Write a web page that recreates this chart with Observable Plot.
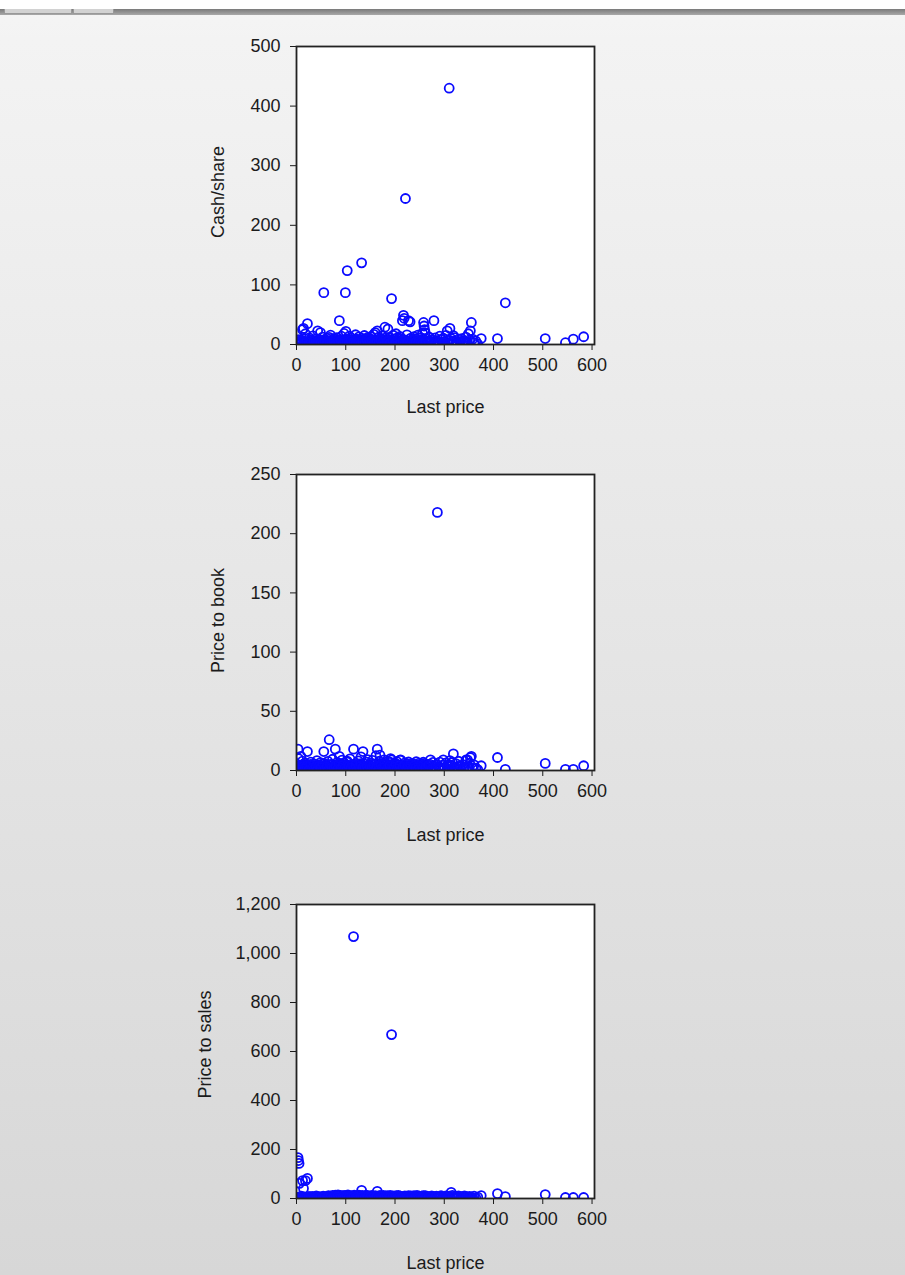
<!DOCTYPE html>
<html><head><meta charset="utf-8">
<script src="https://cdn.jsdelivr.net/npm/d3@7"></script>
<script src="https://cdn.jsdelivr.net/npm/@observablehq/plot@0.6"></script>
<style>
html,body{margin:0;padding:0;}
body{width:905px;height:1275px;position:relative;overflow:hidden;background:linear-gradient(#f5f5f5 0px,#f3f3f3 40px,#d7d7d7 1275px);font-family:"Liberation Sans",Arial,sans-serif;}
#topwhite{position:absolute;left:0;top:0;width:905px;height:9px;background:#fff;}
#bar{position:absolute;left:0;top:9px;width:905px;height:6px;background:linear-gradient(#7a7a7a,#a8a8a8);}
.tab{position:absolute;top:9px;height:4px;background:#d2d2d2;border:1px solid #999;border-top:none;}
.chart{position:absolute;left:0;}
</style></head><body>
<div id="topwhite"></div><div id="bar"></div>
<div class="tab" style="left:4px;width:66px"></div><div class="tab" style="left:73px;width:39px"></div>
<script>
const lastPrice = [
  1.2, 2.5, 3.1, 4.0, 5.2, 6.0, 7.4, 8.8, 10.1, 11.5,
  12.3, 13.6, 14.2, 15.8, 17.0, 18.1, 19.5, 21.0, 22.2, 23.4,
  24.9, 26.1, 27.7, 29.0, 30.3, 31.8, 33.2, 34.6, 36.0, 37.4,
  38.9, 40.1, 41.5, 43.0, 44.3, 45.8, 47.2, 48.6, 50.0, 51.3,
  52.9, 54.1, 55.4, 56.8, 58.2, 59.5, 60.9, 62.3, 63.7, 65.0,
  66.4, 67.8, 69.1, 70.5, 71.9, 73.2, 74.6, 76.0, 77.3, 78.8,
  80.1, 81.5, 82.9, 84.3, 85.6, 87.0, 88.4, 89.7, 91.1, 92.5,
  93.8, 95.2, 96.6, 98.0, 99.2, 100.3, 101.7, 103.0, 104.4, 105.8,
  107.1, 108.5, 109.9, 111.2, 112.6, 114.0, 115.8, 117.1, 118.5, 119.9,
  121.2, 122.6, 124.0, 125.4, 126.8, 128.1, 129.5, 131.0, 132.2, 133.6,
  135.0, 136.4, 137.8, 139.1, 140.5, 141.9, 143.3, 144.6, 146.0, 147.4,
  148.8, 150.2, 151.5, 152.9, 154.3, 155.7, 157.0, 158.4, 159.8, 161.2,
  162.6, 164.0, 165.3, 166.7, 168.1, 169.5, 170.9, 172.2, 173.6, 175.0,
  176.4, 177.8, 179.5, 181.0, 182.5, 184.0, 185.6, 187.1, 188.7, 190.2,
  191.0, 193.0, 194.5, 196.0, 197.6, 199.1, 200.7, 202.2, 203.8, 205.3,
  206.9, 208.4, 210.0, 211.5, 213.1, 215.0, 217.2, 218.6, 220.0, 221.2,
  222.7, 224.3, 225.9, 227.4, 229.0, 230.6, 232.1, 233.7, 235.3, 236.8,
  238.4, 240.0, 241.6, 243.1, 244.7, 246.3, 247.9, 249.5, 251.0, 252.6,
  254.2, 255.8, 257.3, 258.0, 259.0, 260.0, 261.5, 263.0, 265.0, 267.5,
  270.0, 272.0, 274.5, 277.0, 279.0, 281.5, 284.0, 286.0, 288.5, 291.0,
  293.5, 296.0, 298.0, 301.0, 303.5, 306.0, 308.5, 310.0, 311.5, 314.0,
  316.5, 318.5, 321.0, 323.5, 326.0, 329.0, 332.0, 335.0, 338.0, 341.0,
  344.0, 347.0, 349.0, 351.5, 353.0, 355.0, 357.5, 360.5, 364.0, 368.0,
  375, 408, 424, 505, 546, 562, 583,
  2.0, 6.7, 9.5, 16.4, 20.3, 25.5, 28.4, 32.5, 35.3, 39.6,
  42.2, 46.5, 49.3, 53.5, 57.5, 61.6, 64.4, 68.5, 72.6, 75.3,
  79.5, 83.6, 86.3, 90.4, 94.5, 97.3, 102.4, 106.5, 110.5, 113.3,
  116.4, 120.5, 123.3, 127.5, 130.2, 134.3, 138.5, 142.6, 145.3, 149.5,
  153.6, 156.3, 160.5, 163.3, 167.4, 171.5, 174.3, 178.6, 183.2, 186.4,
  189.5, 195.3, 198.4, 201.5, 204.6, 209.2, 212.3, 216.1, 219.3, 223.5,
  226.6, 231.4, 234.5, 239.2, 242.3, 245.5, 248.7, 253.4, 256.5, 262.2,
  268.8, 275.5, 282.6, 289.8, 299.5, 307.2, 317.5, 327.5, 339.5, 346.0
];
const cashPerShare = [
  0.5, 1.8, 5, 2, 8, 3, 0.9, 4.5, 1.2, 6.8,
  25, 0.4, 27, 2.9, 9.5, 18, 1.6, 3.7, 35, 0.7,
  5.6, 11.2, 2.1, 0.3, 7.4, 3.3, 14.5, 1.0, 6.1, 2.6,
  9.0, 0.8, 4.2, 23, 1.5, 7.7, 3.0, 20, 0.6, 5.0,
  12.3, 2.3, 87, 8.2, 0.9, 4.8, 1.9, 10.4, 3.6, 6.5,
  12, 0.5, 15.8, 2.8, 7.0, 1.3, 4.9, 9.8, 0.4, 3.9,
  6.6, 11.5, 2.0, 5.4, 0.9, 40, 8.6, 3.1, 13.9, 1.7,
  7.2, 4.4, 18.5, 0.7, 87, 22, 9.6, 124, 2.5, 6.0,
  14.2, 1.1, 5.3, 11.0, 3.4, 7.9, 8, 0.6, 4.1, 16.4,
  2.2, 9.1, 0.8, 6.3, 12.8, 3.8, 1.4, 7.5, 137, 10.2,
  4.6, 0.9, 15.1, 2.7, 8.4, 5.7, 1.8, 11.8, 3.2, 6.9,
  0.5, 9.3, 13.4, 2.4, 7.1, 4.3, 17, 1.0, 20, 5.9,
  3.5, 23, 0.7, 12.5, 6.2, 2.0, 9.7, 4.0, 14.8, 1.3,
  7.8, 3.0, 29, 10.9, 0.8, 6.7, 26, 2.6, 12.0, 4.7,
  8.0, 77, 1.5, 15.5, 5.2, 9.4, 0.6, 18, 3.7, 11.3,
  6.4, 2.1, 13.6, 9.9, 4.5, 40, 49, 44, 7.6, 245,
  1.1, 16.2, 5.5, 40, 2.9, 38, 10.6, 3.9, 8.3, 0.9,
  13.1, 5.8, 1.7, 9.9, 4.2, 15.7, 2.3, 7.3, 11.7, 0.7,
  6.0, 19, 3.1, 37, 31, 25, 19.5, 5.1, 9.0, 1.9,
  12.2, 4.4, 7.8, 2.5, 40, 11.0, 6.5, 6, 3.2, 14.0,
  8.7, 1.2, 10.5, 4.8, 15.2, 23, 7.0, 430, 27, 9.8,
  2.0, 15, 11.6, 5.4, 0.8, 8.9, 3.6, 10.0, 6.3, 1.7,
  12.4, 4.1, 18, 7.7, 23, 37, 9.1, 2.8, 5.9, 0.9,
  10, 10, 70, 10, 3, 9, 13,
  3.4, 0.2, 6.1, 1.5, 4.8, 2.2, 7.6, 0.9, 5.3, 2.8,
  1.1, 6.4, 3.0, 0.5, 8.1, 2.4, 5.0, 1.7, 3.9, 6.8,
  0.3, 4.5, 2.0, 7.2, 1.2, 5.8, 3.3, 0.6, 6.6, 2.9,
  4.1, 1.0, 7.9, 3.5, 0.4, 5.5, 2.5, 8.4, 1.4, 4.6,
  6.2, 0.8, 3.7, 5.1, 1.9, 7.3, 2.7, 0.5, 4.9, 6.0,
  2.1, 5.7, 0.9, 3.8, 7.0, 1.6, 4.3, 6.5, 0.7, 3.1,
  5.4, 1.3, 8.0, 2.6, 4.0, 0.8, 6.3, 3.4, 1.8, 5.9,
  2.3, 7.1, 1.0, 4.4, 3.2, 0.6, 5.6, 2.0, 4.7, 1.5
];
const priceToBook = [
  1.1, 3.2, 18, 10, 4, 2, 0.6, 12, 2.4, 0.9,
  8, 5.1, 3, 1.7, 6.2, 5, 0.8, 3.9, 16, 1.3,
  2.2, 4.4, 0.5, 7.1, 1.9, 3.3, 0.7, 2.8, 5.5, 1.2,
  3.6, 0.4, 8.4, 2.0, 1.0, 4.8, 0.3, 6.6, 2.5, 1.4,
  3.0, 0.9, 16, 5.9, 1.6, 2.7, 4.1, 0.8, 7.7, 2.1,
  26, 3.4, 1.1, 5.2, 0.6, 9.5, 2.9, 1.5, 4.6, 18,
  0.7, 3.8, 6.9, 1.8, 2.6, 12, 4.3, 0.9, 5.7, 8.8,
  1.2, 3.5, 6.4, 0.5, 5, 2.3, 7.3, 8, 1.0, 4.0,
  2.2, 9.9, 0.8, 3.1, 4.5, 1.7, 18, 5.0, 2.4, 0.6,
  6.1, 3.7, 1.3, 8.2, 2.0, 4.7, 0.7, 11.5, 4, 2.6,
  16, 1.4, 5.6, 3.2, 0.9, 7.0, 2.1, 9.2, 1.6, 4.5,
  0.4, 3.0, 6.3, 1.9, 8.6, 2.8, 0.7, 5.3, 3.6, 12.5,
  1.1, 18, 4.2, 2.5, 7.8, 13, 1.5, 3.9, 0.6, 6.0,
  2.7, 9.0, 4.9, 1.2, 5.8, 2.3, 8.0, 0.8, 3.4, 6.8,
  10, 9, 2.0, 4.6, 1.0, 6.7, 3.1, 0.5, 7.5, 2.6,
  5.0, 1.3, 8.7, 9, 3.5, 2.9, 4.1, 0.9, 6.5, 3,
  2.4, 5.4, 1.8, 7.2, 3.0, 0.7, 4.8, 2.2, 6.0, 1.4,
  5.2, 3.3, 0.6, 7.4, 2.0, 4.4, 1.1, 6.2, 3.7, 0.9,
  5.6, 2.3, 7.0, 4.0, 1.6, 6.1, 3.2, 0.8, 4.9, 2.6,
  5.4, 9, 1.9, 6.8, 3.6, 0.7, 5.1, 218, 2.9, 7.1,
  1.3, 4.5, 9, 2.2, 6.4, 3.8, 1.0, 5, 8.3, 4.0,
  6.9, 14, 2.7, 5.8, 1.5, 7.8, 3.4, 0.6, 5.0, 2.4,
  8.9, 9, 3.1, 6.3, 11, 12, 1.9, 4.7, 2.0, 0.7,
  4, 11, 1, 6, 1, 1, 4,
  2.9, 0.7, 4.6, 1.3, 3.8, 0.5, 5.2, 2.1, 1.0, 3.5,
  0.6, 4.2, 2.4, 5.6, 1.1, 3.3, 0.4, 4.9, 2.6, 1.8,
  3.9, 0.9, 5.4, 2.0, 4.4, 1.5, 0.8, 3.6, 2.2, 5.0,
  1.2, 4.7, 0.5, 3.1, 5.8, 2.5, 1.7, 4.0, 0.9, 3.4,
  2.8, 5.1, 1.4, 3.7, 0.6, 4.5, 2.3, 5.5, 1.0, 3.0,
  4.3, 0.7, 2.9, 5.3, 1.6, 3.9, 0.5, 2.6, 4.8, 1.9,
  3.2, 5.0, 1.1, 4.1, 2.4, 0.8, 3.6, 5.4, 1.5, 2.7,
  4.6, 1.2, 3.3, 0.9, 2.1, 4.0, 1.7, 3.5, 0.6, 2.8
];
const priceToSales = [
  0.8, 2.1, 167, 155, 143, 62, 4.2, 1.5, 9.8, 0.3,
  73, 3.3, 41, 6.5, 1.1, 73, 2.7, 0.6, 82, 4.9,
  7.3, 1.8, 0.9, 5.6, 2.4, 8.7, 1.2, 3.9, 0.4, 6.1,
  2.0, 10.5, 1.4, 3.1, 0.7, 4.4, 7.8, 2.6, 0.5, 5.2,
  1.6, 9.1, 4, 0.8, 3.5, 6.9, 1.3, 2.9, 0.6, 11.2,
  5, 4.1, 1.7, 7.4, 2.2, 12.8, 0.9, 5.8, 3.0, 13.5,
  1.0, 8.1, 2.5, 14.2, 4.7, 10, 0.4, 12.6, 6.3, 1.9,
  9.6, 3.6, 13.0, 2.3, 8, 11.4, 0.7, 6, 14.8, 4.5,
  10.2, 1.3, 7.0, 12.1, 2.8, 5.5, 1069, 13.7, 0.5, 8.9,
  3.2, 11.8, 1.6, 6.7, 14.0, 2.0, 9.3, 4.8, 33, 12.9,
  1.1, 7.6, 3.4, 10.7, 0.6, 13.3, 5.1, 8.2, 2.4, 11.0,
  4.0, 6.6, 0.9, 12.4, 3.7, 9.0, 1.4, 7.2, 11.6, 2.7,
  5.9, 29, 3.8, 8.5, 1.0, 12.2, 4.6, 10.0, 2.1, 6.8,
  13.1, 0.8, 5.4, 9.4, 3.1, 11.3, 1.8, 7.9, 4.3, 12.7,
  6.0, 669, 2.6, 10.4, 0.7, 8.0, 3.9, 11.9, 5.0, 1.5,
  12.3, 6.4, 2.9, 9.7, 4.1, 0.6, 7.7, 3.3, 11.1, 5,
  1.2, 8.6, 4.4, 12.0, 2.2, 6.2, 10.8, 0.9, 7.1, 3.0,
  11.5, 1.7, 8.4, 4.9, 12.6, 2.5, 6.9, 10.1, 0.8, 5.3,
  9.5, 3.6, 11.7, 1.3, 7.5, 4.0, 12.0, 2.3, 8.8, 0.5,
  6.1, 3.2, 10.9, 1.0, 7.8, 4.5, 9.9, 4, 1.9, 6.5,
  11.4, 2.8, 7.0, 0.7, 10.3, 5.6, 8.7, 10, 2.0, 25,
  12.5, 6.2, 1.1, 9.2, 3.5, 11.1, 0.9, 7.3, 4.2, 10.6,
  2.6, 6.6, 1.4, 8.3, 3.0, 5.7, 0.8, 9.8, 2.4, 6.0,
  12, 20, 8, 16, 4, 4, 4,
  3.1, 6.2, 0.9, 4.4, 1.7, 7.5, 2.6, 5.1, 0.4, 3.8,
  6.8, 1.2, 4.9, 2.3, 7.1, 0.7, 5.5, 3.0, 1.5, 6.0,
  2.0, 7.7, 0.6, 4.2, 5.8, 1.4, 6.6, 3.3, 0.9, 4.6,
  7.3, 2.7, 5.2, 0.5, 3.6, 6.9, 1.8, 4.1, 7.9, 2.2,
  0.8, 5.4, 3.9, 6.4, 1.1, 4.8, 7.0, 2.5, 5.9, 0.6,
  3.5, 6.7, 1.9, 4.3, 0.7, 7.6, 2.8, 5.0, 1.3, 6.1,
  4.0, 0.9, 7.2, 2.1, 5.6, 3.4, 0.5, 6.3, 4.7, 1.6,
  5.3, 2.4, 6.8, 1.0, 4.5, 3.1, 7.4, 0.8, 2.9, 5.7
];
const xTicks = [0, 100, 200, 300, 400, 500, 600];
const xLabel = "Last price";
const panels = [
  {label: "Cash/share", values: cashPerShare, domain: [0, 500], ticks: [0, 100, 200, 300, 400, 500]},
  {label: "Price to book", values: priceToBook, domain: [0, 250], ticks: [0, 50, 100, 150, 200, 250]},
  {label: "Price to sales", values: priceToSales, domain: [0, 1200], ticks: [0, 200, 400, 600, 800, 1000, 1200]}
];

[cashPerShare, priceToBook, priceToSales].forEach(a => {
  if (a.length !== lastPrice.length) throw new Error("length mismatch " + a.length + " vs " + lastPrice.length);
});

const layout = [
  {top: 0, height: 430, mt: 46, mb: 86, ldx: -78, ldy: -3.5, xdy: 56},
  {top: 430, height: 430, mt: 44, mb: 90, ldx: -78, ldy: -2, xdy: 58},
  {top: 860, height: 415, mt: 44, mb: 77, ldx: -91, ldy: -7, xdy: 58}
];
const ink = "#1b1b1b";
const fmt = d3.format(",");

panels.forEach((p, k) => {
  const L = layout[k];
  const data = lastPrice.map((x, i) => ({x, y: p.values[i]}));
  const chart = Plot.plot({
    width: 905, height: L.height,
    marginLeft: 296, marginRight: 311, marginTop: L.mt, marginBottom: L.mb,
    style: {background: "transparent", fontFamily: "'Liberation Sans', Arial, sans-serif", fontSize: "18px", color: ink, overflow: "visible"},
    x: {domain: [0, 605], ticks: xTicks, tickFormat: fmt, tickSize: 6, tickPadding: 8, label: null},
    y: {domain: p.domain, ticks: p.ticks, tickFormat: fmt, tickSize: 6, tickPadding: 10, label: null},
    marks: [
      Plot.frame({fill: "white", stroke: "none"}),
      Plot.dot(data, {x: "x", y: "y", r: 4.5, stroke: "#0a0aff", strokeWidth: 1.8, fill: "none", clip: true}),
      Plot.frame({stroke: "#222", strokeWidth: 1.8}),
      Plot.text([p.label], {text: d => d, frameAnchor: "left", textAnchor: "middle", lineAnchor: "middle", rotate: -90, dx: L.ldx, dy: L.ldy, fontSize: 18, fill: ink}),
      Plot.text([xLabel], {text: d => d, frameAnchor: "bottom", textAnchor: "middle", lineAnchor: "top", dy: L.xdy, fontSize: 18, fill: ink})
    ]
  });
  chart.classList.add("chart");
  chart.style.top = L.top + "px";
  document.body.appendChild(chart);
});
</script>
</body></html>
